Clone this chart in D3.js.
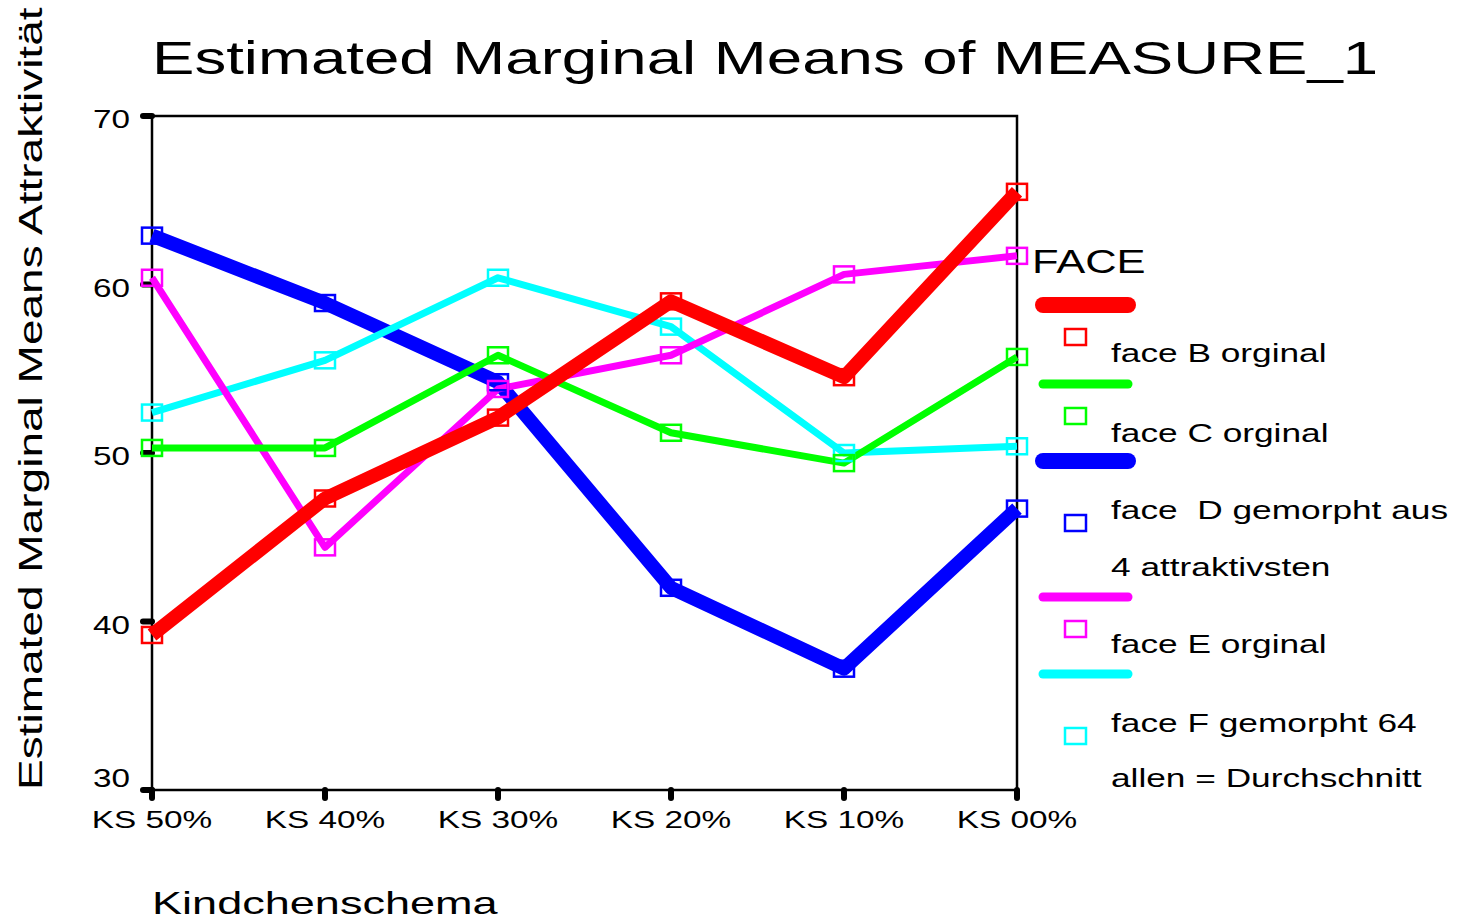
<!DOCTYPE html>
<html><head><meta charset="utf-8">
<script src="https://cdn.jsdelivr.net/npm/d3@7"></script>
<style>body{margin:0;background:#fff}svg{display:block}text{font-family:"Liberation Sans",Arial,sans-serif;fill:#000}</style>
</head><body>
<script>
const categories = ["KS 50%","KS 40%","KS 30%","KS 20%","KS 10%","KS 00%"];
const yTicks = [30,40,50,60,70];
const faceB = [39.2, 47.3, 52.1, 59.0, 54.5, 65.5];
const faceC = [50.3, 50.3, 55.8, 51.2, 49.4, 55.7];
const faceD = [62.9, 58.9, 54.2, 42.0, 37.2, 46.7];
const faceE = [60.4, 44.4, 53.8, 55.8, 60.6, 61.7];
const faceF = [52.4, 55.5, 60.4, 57.5, 50.0, 50.4];
const seriesNames = ["face B orginal","face C orginal","face  D gemorpht aus|4 attraktivsten","face E orginal","face F gemorpht 64|allen = Durchschnitt"];
const seriesColors = ["#ff0000","#00ff00","#0000ff","#ff00ff","#00ffff"];

const W=1463,H=921;
const svg=d3.select("body").append("svg").attr("width",W).attr("height",H);
const x=d3.scalePoint().domain(categories).range([152,1017]);
const y=d3.scaleLinear().domain([30,70]).range([790,116]);
const K=1.4;
function stretch(sel,k){
  sel.each(function(){
    const l=this.getComputedTextLength();
    d3.select(this).attr("textLength",l*(k||K)).attr("lengthAdjust","spacingAndGlyphs");
  });
  return sel;
}

const series=[
 {name:seriesNames[0],color:seriesColors[0],values:faceB,w:14,lw:16},
 {name:seriesNames[1],color:seriesColors[1],values:faceC,w:7,lw:9},
 {name:seriesNames[2],color:seriesColors[2],values:faceD,w:14,lw:16},
 {name:seriesNames[3],color:seriesColors[3],values:faceE,w:7,lw:9},
 {name:seriesNames[4],color:seriesColors[4],values:faceF,w:7,lw:9}
];

// title
stretch(svg.append("text").attr("x",152).attr("y",74).attr("font-size",46)
  .text("Estimated Marginal Means of MEASURE_1"),1226/887);

// y ticks
yTicks.forEach(t=>{
  svg.append("line").attr("x1",143).attr("x2",152).attr("y1",y(t)).attr("y2",y(t))
    .attr("stroke","#000").attr("stroke-width",6).attr("stroke-linecap","round");
  stretch(svg.append("text").attr("x",130).attr("y",y(t)+(t===30?-3:12))
    .attr("text-anchor","end").attr("font-size",25).text(t),1.33);
});
// x ticks
categories.forEach(c=>{
  svg.append("line").attr("x1",x(c)).attr("x2",x(c)).attr("y1",790).attr("y2",798)
    .attr("stroke","#000").attr("stroke-width",6).attr("stroke-linecap","round");
  stretch(svg.append("text").attr("x",x(c)).attr("y",828).attr("text-anchor","middle")
    .attr("font-size",23).text(c),1.45);
});

// frame
svg.append("rect").attr("x",152).attr("y",116).attr("width",865).attr("height",674)
  .attr("fill","none").attr("stroke","#000").attr("stroke-width",2.5);

// lines
const line=d3.line().x((d,i)=>x(categories[i])).y(d=>y(d));
const order=[2,4,3,1,0];
order.forEach(k=>{
  const s=series[k];
  svg.append("path").datum(s.values).attr("d",line).attr("fill","none")
    .attr("stroke",s.color).attr("stroke-width",s.w).attr("stroke-linejoin","round");
});
order.forEach(k=>{
  const s=series[k];
  svg.selectAll(null).data(s.values).enter().append("rect")
    .attr("x",(d,i)=>x(categories[i])-10).attr("y",d=>y(d)-8)
    .attr("width",20).attr("height",16).attr("fill","none")
    .attr("stroke",s.color).attr("stroke-width",2.5);
});

// axis titles
stretch(svg.append("text").attr("x",152).attr("y",914).attr("font-size",32).text("Kindchenschema"),345/245);
stretch(svg.append("text").attr("transform","translate(42,790) rotate(-90)").attr("font-size",33)
  .text("Estimated Marginal Means Attraktivität"),785/563);

// legend
stretch(svg.append("text").attr("x",1032).attr("y",273).attr("font-size",34).text("FACE"),116/90.7);
const legLineY=[305,384,461,597,674];
const legBoxY=[337,416,523,629,736];
const legTextY=[[362],[442],[519,576],[653],[732,787]];
series.forEach((s,i)=>{
  svg.append("line").attr("x1",1043).attr("x2",1128).attr("y1",legLineY[i]).attr("y2",legLineY[i])
    .attr("stroke",s.color).attr("stroke-width",s.lw).attr("stroke-linecap","round");
  svg.append("rect").attr("x",1065).attr("y",legBoxY[i]-8).attr("width",21).attr("height",16)
    .attr("fill","none").attr("stroke",s.color).attr("stroke-width",2.5);
  s.name.split("|").forEach((t,j)=>{
    stretch(svg.append("text").attr("x",1111).attr("y",legTextY[i][j])
      .attr("font-size",25).style("white-space","pre").text(t),1.41);
  });
});
</script>
</body></html>
